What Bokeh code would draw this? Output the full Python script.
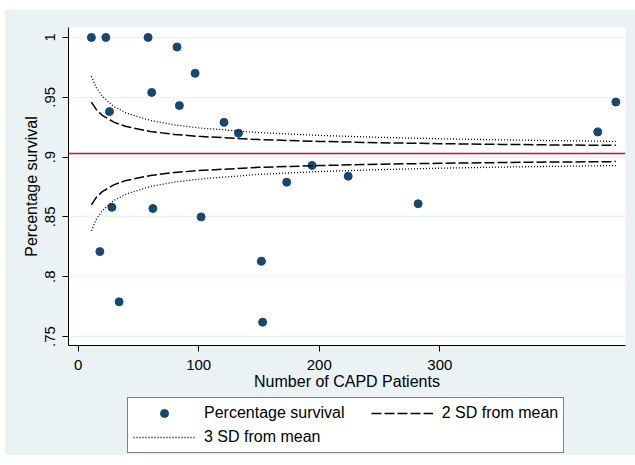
from bokeh.plotting import figure
from bokeh.layouts import column
from bokeh.models import Range1d, FixedTicker, Legend, LegendItem, Span, ColumnDataSource
from bokeh.embed import file_html
from bokeh.resources import INLINE

# ---- data ----
patients = [11, 23, 58, 82, 97, 61, 84, 26, 121, 133, 431, 446, 194, 173, 224, 282, 28, 62, 102, 18, 152, 34, 153]
survival = [1.0, 1.0, 1.0, 0.992, 0.970, 0.954, 0.943, 0.938, 0.929, 0.920, 0.921, 0.946, 0.893, 0.879,
            0.884, 0.861, 0.858, 0.857, 0.850, 0.821, 0.813, 0.779, 0.762]

mean_survival = 0.903

limit_n = [11, 15, 20, 30, 40, 60, 80, 100, 150, 200, 250, 300, 350, 400, 446]
upper_2sd = [0.9460, 0.9398, 0.9349, 0.9290, 0.9255, 0.9214, 0.9189, 0.9173, 0.9146, 0.9131, 0.9120, 0.9112, 0.9106, 0.9101, 0.9098]
lower_2sd = [0.8600, 0.8662, 0.8711, 0.8770, 0.8805, 0.8846, 0.8871, 0.8887, 0.8914, 0.8929, 0.8940, 0.8948, 0.8954, 0.8959, 0.8962]
upper_3sd = [0.9675, 0.9582, 0.9508, 0.9420, 0.9368, 0.9306, 0.9269, 0.9244, 0.9205, 0.9181, 0.9165, 0.9153, 0.9144, 0.9137, 0.9131]
lower_3sd = [0.8385, 0.8478, 0.8552, 0.8640, 0.8692, 0.8754, 0.8791, 0.8816, 0.8855, 0.8879, 0.8895, 0.8907, 0.8916, 0.8923, 0.8929]

x_ticks = [0, 100, 200, 300]
y_ticks = [0.75, 0.8, 0.85, 0.9, 0.95, 1.0]
y_tick_labels = [".75", ".8", ".85", ".9", ".95", "1"]

legend_labels = ["Percentage survival", "2 SD from mean", "3 SD from mean"]

FONT = "Liberation Sans"
BG = "#EAF2F3"
NAVY = "#1A476F"

POINT_STYLE = dict(size=8, color=NAVY, marker="circle")
SD2_STYLE = dict(line_color="black", line_width=1.5, line_dash="10 3")
SD3_STYLE = dict(line_color="black", line_width=1.3, line_dash="1 2")

src = ColumnDataSource(dict(n=patients, s=survival))
lim = ColumnDataSource(dict(n=limit_n, u2=upper_2sd, l2=lower_2sd, u3=upper_3sd, l3=lower_3sd))

# ---------------- main plot ----------------
p = figure(width=630, height=382,
           x_range=Range1d(-8, 454), y_range=Range1d(0.7425, 1.0083),
           output_backend="svg", toolbar_location=None,
           min_border_left=63, min_border_top=17, min_border_right=10, min_border_bottom=46,
           background_fill_color="white", border_fill_color=BG, outline_line_color=None)

p.scatter("n", "s", source=src, **POINT_STYLE)
p.line("n", "u2", source=lim, **SD2_STYLE)
p.line("n", "l2", source=lim, **SD2_STYLE)
p.line("n", "u3", source=lim, **SD3_STYLE)
p.line("n", "l3", source=lim, **SD3_STYLE)

p.add_layout(Span(location=mean_survival, dimension="width", line_color="#C0143C", line_width=1.5))

p.xaxis.ticker = FixedTicker(ticks=x_ticks)
p.yaxis.ticker = FixedTicker(ticks=y_ticks)
p.yaxis.major_label_overrides = dict(zip(y_ticks, y_tick_labels))
p.yaxis.major_label_orientation = "vertical"
for ax in (p.xaxis, p.yaxis):
    ax.axis_line_color = "black"
    ax.major_tick_line_color = "black"
    ax.major_tick_out = 6
    ax.major_tick_in = 0
    ax.minor_tick_line_color = None
    ax.major_label_text_font = FONT
    ax.major_label_text_font_size = "15px"
    ax.major_label_text_color = "black"
    ax.axis_label_text_font = FONT
    ax.axis_label_text_font_size = "16px"
    ax.axis_label_text_font_style = "normal"
    ax.axis_label_text_color = "black"
p.xaxis.axis_label = "Number of CAPD Patients"
p.yaxis.axis_label = "Percentage survival"
p.xaxis.major_label_standoff = 8
p.xaxis.axis_label_standoff = 0
p.yaxis.major_label_standoff = 7
p.yaxis.axis_label_standoff = 3

p.xgrid.grid_line_color = None
p.ygrid.grid_line_color = BG
p.ygrid.grid_line_width = 1.5

# ---------------- legend strip ----------------
# the same series are drawn here, but the ranges keep them out of view;
# they only provide the legend keys
lg = figure(width=630, height=63,
            x_range=Range1d(0, 1), y_range=Range1d(0, 1),
            x_axis_type=None, y_axis_type=None,
            output_backend="svg", toolbar_location=None,
            min_border=0, min_border_left=0, min_border_right=0, min_border_top=0, min_border_bottom=0,
            background_fill_color=BG, border_fill_color=BG, outline_line_color=None)
k_pts = lg.scatter("n", "s", source=src, **POINT_STYLE)
k_sd2 = lg.line("n", "u2", source=lim, **SD2_STYLE)
k_sd3 = lg.line("n", "u3", source=lim, **SD3_STYLE)

legend = Legend(items=[
    LegendItem(label=legend_labels[0] + "     ", renderers=[k_pts]),
    LegendItem(label=legend_labels[2], renderers=[k_sd3]),
    LegendItem(label=legend_labels[1], renderers=[k_sd2]),
], ncols=2, location=(59, 2))
legend.label_text_font = FONT
legend.label_text_font_size = "16px"
legend.label_text_color = "black"
legend.glyph_width = 62
legend.glyph_height = 20
legend.label_height = 20
legend.label_standoff = 9
legend.spacing = 4
legend.padding = 5
legend.margin = 0
legend.border_line_color = "black"
legend.border_line_width = 1
legend.background_fill_color = "white"
legend.background_fill_alpha = 1
lg.add_layout(legend, "center")

layout = column(p, lg, spacing=0, margin=(10, 0, 0, 5), styles={"background-color": BG})
open("out.html", "w").write(file_html(layout, INLINE))
